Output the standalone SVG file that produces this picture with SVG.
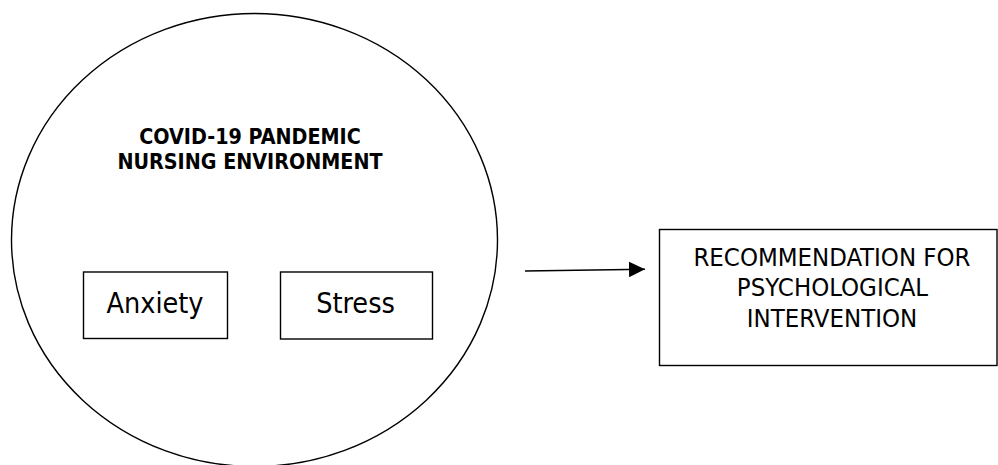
<svg xmlns="http://www.w3.org/2000/svg" width="998" height="465" viewBox="0 0 998 465">
<defs>
<style>
.shape{fill:none;stroke:#000;stroke-width:1.4}
.t{font-family:"DejaVu Sans Condensed","DejaVu Sans",sans-serif;font-stretch:condensed;fill:#000;text-anchor:middle}
.title{font-size:21.3px;font-weight:bold}
.big{font-size:28.5px}
.rec{font-size:25.5px}
</style>
<marker id="arrow" markerWidth="16" markerHeight="16" refX="16" refY="8" orient="auto" markerUnits="userSpaceOnUse" viewBox="0 0 16 16">
<path d="M0,0.2 L16,8 L0,15.8 Z" fill="#000"/>
</marker>
</defs>
<rect width="998" height="465" fill="#fff"/>
<g id="environment">
<ellipse class="shape" cx="254.5" cy="240" rx="243" ry="226.5" stroke-width="1.6"/>
<text class="t title" x="250" y="144.3">COVID-19 PANDEMIC</text>
<text class="t title" x="250" y="169">NURSING ENVIRONMENT</text>
</g>
<g id="anxiety">
<rect class="shape" x="83.5" y="272" width="144" height="66.5"/>
<text class="t big" x="155" y="313.3">Anxiety</text>
</g>
<g id="stress">
<rect class="shape" x="280.5" y="272" width="152" height="67"/>
<text class="t big" x="355.5" y="313.3">Stress</text>
</g>
<g id="recommendation">
<rect class="shape" x="659.5" y="229.5" width="337.5" height="136"/>
<text class="t rec" x="832" y="265.6">RECOMMENDATION FOR</text>
<text class="t rec" x="832.5" y="296">PSYCHOLOGICAL</text>
<text class="t rec" x="832" y="326.5">INTERVENTION</text>
</g>
<g id="connectors">
<line x1="525" y1="271" x2="645" y2="269.2" stroke="#000" stroke-width="1.4" marker-end="url(#arrow)"/>
</g>
</svg>
